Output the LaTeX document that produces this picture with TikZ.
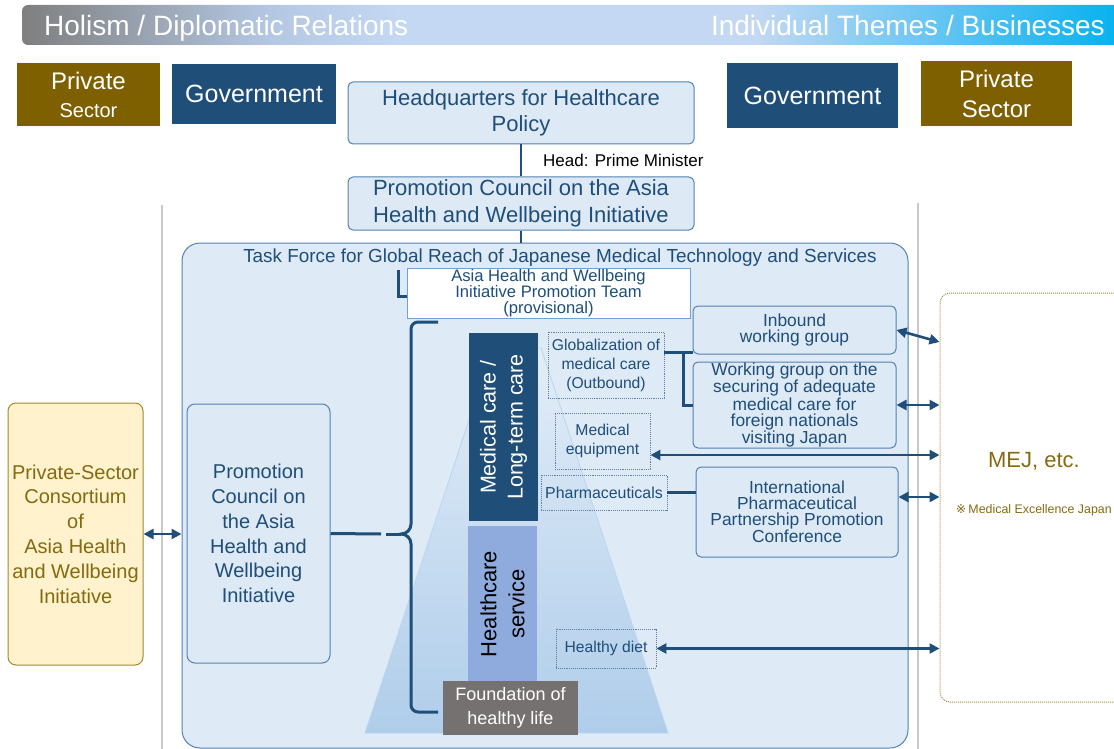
\documentclass[tikz,border=0pt]{standalone}
\usepackage{fontspec}
\setmainfont{Liberation Sans}
\newfontfamily\symfont{DejaVu Sans}
\usetikzlibrary{arrows.meta}

\definecolor{navy}{HTML}{1F4E79}
\definecolor{gold}{HTML}{7F6000}
\definecolor{goldtext}{HTML}{846A10}
\definecolor{boxfill}{HTML}{DDE9F5}
\definecolor{tffill}{HTML}{DEEAF6}
\definecolor{bordblue}{HTML}{5281B2}
\definecolor{teamborder}{HTML}{6FA0D8}
\definecolor{dotblue}{HTML}{5B7FA8}
\definecolor{consfill}{HTML}{FFF2CC}
\definecolor{consborder}{HTML}{A2882E}
\definecolor{hcsfill}{HTML}{8FAADC}
\definecolor{foundfill}{HTML}{767171}
\definecolor{divgray}{HTML}{C9C9C9}
\definecolor{pyrtop}{HTML}{E3EDF8}
\definecolor{pyrbot}{HTML}{AFCDEA}
\definecolor{pyredge}{HTML}{BAD5EE}
\definecolor{mejborder}{HTML}{A68B3E}
\definecolor{hdrgray}{HTML}{7F7F7F}
\definecolor{hdrmid}{HTML}{B3C6E2}
\definecolor{hdrlight}{HTML}{C4D8F3}
\definecolor{hdrcyan}{HTML}{00B0F0}

% band behind the two column headings
\pgfdeclarehorizontalshading{bandshade}{100bp}{%
  color(0bp)=(hdrgray); color(25bp)=(hdrgray); color(36bp)=(hdrmid);
  color(42bp)=(hdrlight); color(58bp)=(hdrlight); color(75bp)=(hdrcyan);
  color(100bp)=(hdrcyan)}

\newcommand\setfs[2]{\fontsize{#1}{#2}\selectfont}

\begin{document}
\begin{tikzpicture}[x=1pt,y=-1pt,
  lbox/.style={draw=bordblue, fill=boxfill, rounded corners=5pt, line width=1pt,
               text=navy, align=center, inner sep=0pt},
  solidbox/.style={inner sep=0pt, align=center, text=white},
  dbox/.style={draw=dotblue, densely dotted, line width=0.9pt, text=navy,
               align=center, inner sep=0pt},
  conn/.style={draw=navy, line width=2.6pt},
  dbl/.style={draw=navy, line width=2.6pt,
              {Triangle[length=10pt,width=10pt]}-{Triangle[length=10pt,width=10pt]}},
  divider/.style={draw=divgray, line width=2pt}]

\useasboundingbox (0,0) rectangle (1114,749);
\clip (0,0) rectangle (1114,749);

% heading band
\path[shading=bandshade, rounded corners=6pt] (22,5) rectangle (1130,45);
\node[anchor=base west, text=white, font=\setfs{28}{32}, inner sep=0pt] (hdrL) at (44,36)
  {Holism / Diplomatic Relations};
\node[anchor=base east, text=white, font=\setfs{28}{32}, inner sep=0pt] (hdrR) at (1105,36)
  {Individual Themes / Businesses};

% sector labels
\node[solidbox, fill=gold, minimum width=143pt, minimum height=63pt,
      font=\setfs{20}{28}] (psL) at (88.5,94.5)
  {{\setfs{24}{28}Private}\\Sector};
\node[solidbox, fill=navy, minimum width=164pt, minimum height=60pt,
      font=\setfs{25}{30}] (govL) at (254,94) {Government};
\node[solidbox, fill=navy, minimum width=171pt, minimum height=65pt,
      font=\setfs{25}{30}] (govR) at (812.5,95.5) {Government};
\node[solidbox, fill=gold, minimum width=151pt, minimum height=65pt,
      font=\setfs{24}{30}] (psR) at (996.5,93.5) {Private\\Sector};

% top of the hierarchy
\node[lbox, minimum width=346pt, minimum height=62pt, font=\setfs{22}{26}] (hq)
  at (521,113) {Headquarters for Healthcare\\Policy};
\node[lbox, minimum width=346pt, minimum height=53pt, font=\setfs{22}{27}] (pcTop)
  at (521,203.5) {Promotion Council on the Asia\\Health and Wellbeing Initiative};
\node[anchor=west, font=\setfs{17}{20}, inner sep=0pt] (head) at (543,160)
  {Head: Prime Minister};

% column dividers
\coordinate (divLt) at (162,205);
\coordinate (divLb) at (162,749);
\coordinate (divRt) at (918,203);
\coordinate (divRb) at (918,749);
\draw[divider] (divLt) -- (divLb);
\draw[divider] (divRt) -- (divRb);

% task force frame
\node[lbox, fill=tffill, rounded corners=18pt, minimum width=726pt,
      minimum height=505pt] (tf) at (545,495.5) {};

\draw[conn, line width=2.4pt] (hq.south) -- (pcTop.north);
\draw[conn, line width=2.4pt] (pcTop.south) -- (pcTop.south |- tf.north);

% pyramid
\path[top color=pyrtop, bottom color=pyrbot, draw=pyredge, line width=0.8pt]
  (493,348) -- (541,348) -- (668,733) -- (365,733) -- cycle;

\node[font=\setfs{18.9}{22}, text=navy, inner sep=0pt] (tftitle) at (560,258)
  {Task Force for Global Reach of Japanese Medical Technology and Services};

% promotion team
\node[draw=teamborder, fill=white, line width=1pt, minimum width=283pt,
      minimum height=50pt, align=center, text=navy, inner sep=0pt,
      font=\setfs{16.6}{15.8}] (team) at (548.5,293)
  {Asia Health and Wellbeing\\Initiative Promotion Team\\(provisional)};
\coordinate (teamL) at (398,270);
\draw[conn, line width=3pt] (teamL) |- ([yshift=-3pt]team.west);

% private-sector consortium and the council
\node[lbox, fill=consfill, draw=consborder, rounded corners=8pt, text=goldtext,
      minimum width=135pt, minimum height=262pt, font=\setfs{20}{24.8}] (cons)
  at (75.5,534)
  {Private-Sector\\Consortium\\of\\Asia Health\\and Wellbeing\\Initiative};
\node[lbox, rounded corners=8pt, minimum width=143pt, minimum height=259pt,
      font=\setfs{20}{24.8}] (pcL) at (258.5,533.5)
  {Promotion\\Council on\\the Asia\\Health and\\Wellbeing\\Initiative};
\draw[dbl, line width=2.4pt] (cons.east) -- (cons.east -| tf.west);

% brace over the fields
\coordinate (btip) at (401,534);
\coordinate (gapL) at (381,534);
\coordinate (gapR) at (386,534);
\draw[conn, line width=3pt]
  (438,322) -- (418,322) to[out=180,in=90] (411,329) -- (411,524)
  to[out=-90,in=0] (btip) to[out=0,in=90] (411,544) -- (411,705)
  to[out=-90,in=180] (418,712) -- (438,712);
\draw[conn, line width=3pt] (pcL.east) -- (gapL);
\draw[conn, line width=3pt] (gapR) -- (btip);

% fields
\node[solidbox, fill=hcsfill, text=black, rotate=90, minimum width=156pt,
      minimum height=69pt, font=\setfs{22}{28}] (hcs) at (502.5,604)
  {Healthcare\\service};
\node[solidbox, fill=navy, rotate=90, minimum width=188pt, minimum height=69pt,
      font=\setfs{21.5}{27}] (med) at (503.5,427)
  {Medical care /\\Long-term care};
\node[solidbox, fill=foundfill, minimum width=135pt, minimum height=54pt,
      font=\setfs{18}{23.5}] (found) at (510.5,708)
  {Foundation of\\healthy life};

% themes
\node[dbox, minimum width=116pt, minimum height=66pt, font=\setfs{15.7}{19}] (glob)
  at (606,365) {Globalization of\\medical care\\(Outbound)};
\node[dbox, minimum width=95pt, minimum height=56pt, font=\setfs{15.7}{19}] (equip)
  at (602.5,441) {Medical\\equipment};
\node[dbox, minimum width=126pt, minimum height=35pt, font=\setfs{15.9}{19}] (pharma)
  at (604,492.5) {Pharmaceuticals};
\node[dbox, minimum width=100pt, minimum height=39pt, font=\setfs{15.7}{19}] (diet)
  at (606,648.5) {Healthy diet};

% working groups
\node[lbox, minimum width=203pt, minimum height=48pt, font=\setfs{17.4}{16}] (inb)
  at (794.5,330) {Inbound\\working group};
\node[lbox, minimum width=203pt, minimum height=86pt, font=\setfs{17.4}{16}] (wg)
  at (794.5,405) {Working group on the\\securing of adequate\\medical care for\\foreign nationals\\visiting Japan};
\node[lbox, minimum width=202pt, minimum height=90pt, font=\setfs{17.4}{16}] (ippc)
  at (797,512) {International\\Pharmaceutical\\Partnership Promotion\\Conference};

\coordinate (jn) at (683,352);
\draw[conn, line width=3pt] ([yshift=13pt]glob.east) -- ([yshift=13pt]glob.east -| inb.west);
\draw[conn, line width=3pt] (jn) |- (wg.west);
\draw[conn, line width=3pt] (pharma.east) -- (pharma.east -| ippc.west);

% MEJ block
\node[draw=mejborder, densely dotted, line width=1pt, rounded corners=10pt,
      minimum width=190pt, minimum height=409pt, inner sep=0pt] (mej)
  at (1035,497.5) {};
\node[font=\setfs{22}{26}, text=goldtext, inner sep=0pt] (mejT) at (1034,461)
  {MEJ, etc.};
\node[anchor=east, font=\setfs{12.4}{15}, text=goldtext, inner sep=0pt] (mejN)
  at (1112,510) {{\symfont ※}\,Medical Excellence Japan};

% links to MEJ
\draw[dbl] (inb.east) -- ([yshift=-12pt]inb.east -| mej.west);
\draw[dbl] (wg.east) -- (wg.east -| mej.west);
\draw[dbl] ([yshift=-14pt]equip.east) -- ([yshift=-14pt]equip.east -| mej.west);
\draw[dbl] ([yshift=15pt]ippc.east) -- ([yshift=15pt]ippc.east -| mej.west);
\draw[dbl] (diet.east) -- (diet.east -| mej.west);

\end{tikzpicture}
\end{document}
